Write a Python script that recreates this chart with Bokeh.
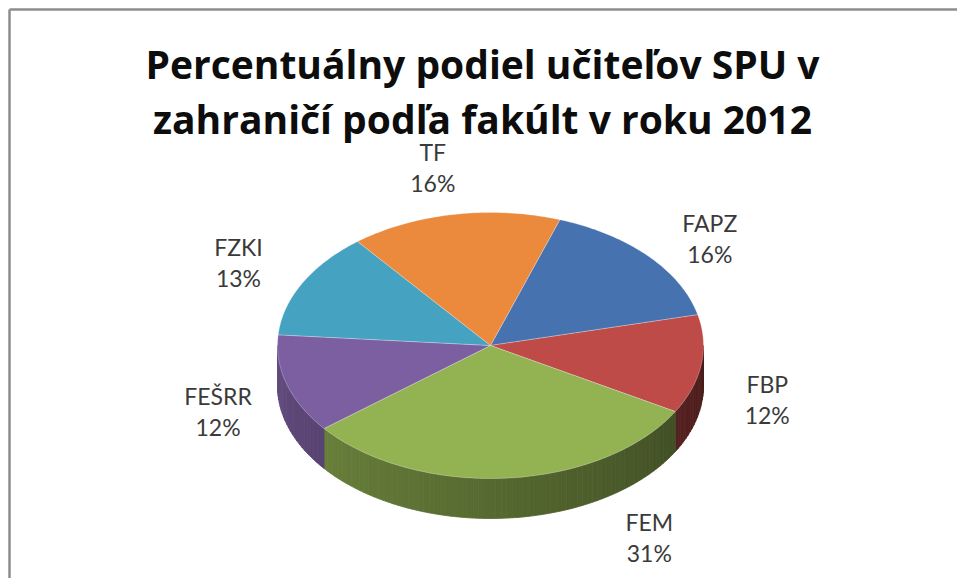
import math
from bokeh.plotting import figure
from bokeh.models import Range1d
from bokeh.core.properties import value
from bokeh.embed import file_html
from bokeh.resources import INLINE

# ---- data ----
faculties = ["FAPZ", "FBP", "FEM", "FEŠRR", "FZKI", "TF"]
shares = [16, 12, 31, 12, 13, 16]
title_lines = ["Percentuálny podiel učiteľov SPU v", "zahraničí podľa fakúlt v roku 2012"]

# ---- style / layout ----
colors = ["#4672B0", "#BE4B48", "#93B353", "#7C5FA0", "#45A2C0", "#EB8A3D"]
W, H = 957, 578
CX, CY, RX, RY, DEPTH = 490, 345, 213, 133, 40
START = 19.0  # first slice angle, degrees clockwise from 12 o'clock
label_nudge = [4, 9, -23, -4, 0, -1.6]     # degrees
label_k = [1.31, 1.36, 1.62, 1.37, 1.34, 1.37]
FONT = "Lato"
TITLE_FONT = "Open Sans"

p = figure(width=W, height=H, x_range=Range1d(0, W), y_range=Range1d(H, 0),
           output_backend="svg", toolbar_location=None, min_border=0)
p.axis.visible = False
p.grid.visible = False
p.outline_line_color = None
p.background_fill_color = "white"
p.border_fill_color = "white"


def pt(theta, dy=0.0, k=1.0):
    t = math.radians(theta)
    return CX + RX * k * math.sin(t), CY - RY * k * math.cos(t) + dy


def shade(hexc, f):
    r, g, b = int(hexc[1:3], 16), int(hexc[3:5], 16), int(hexc[5:7], 16)
    return "#%02x%02x%02x" % (int(r * f), int(g * f), int(b * f))


total = float(sum(shares))
angles = []
a = START
for v in shares:
    span = 360.0 * v / total
    angles.append((a, a + span))
    a += span

# frame
p.segment(x0=[9, 9], y0=[9, 9], x1=[W + 5, 9], y1=[9, H + 5], line_color="#8c8c8c", line_width=2.5)

# sides (visible lower half: 90..270 degrees)
for (a0, a1), c in zip(angles, colors):
    for off in (0, 360):
        lo, hi = max(a0, 90 + off), min(a1, 270 + off)
        if hi <= lo:
            continue
        n = max(2, int((hi - lo) / 1.5))
        step = (hi - lo) / n
        xs_list, ys_list, cols = [], [], []
        for i in range(n):
            t0, t1 = lo + i * step, lo + (i + 1) * step
            tm = (t0 + t1) / 2 - off
            f = 0.38 + 0.42 * (tm - 90) / 180.0
            p0 = pt(t0); p1 = pt(t1)
            xs_list.append([p0[0], p1[0], p1[0], p0[0]])
            ys_list.append([p0[1], p1[1], p1[1] + DEPTH, p0[1] + DEPTH])
            cols.append(shade(c, f))
        p.patches(xs_list, ys_list, fill_color=cols, line_color=cols, line_width=0.8)

# top faces
for (a0, a1), c in zip(angles, colors):
    n = max(4, int((a1 - a0) / 1.0))
    xs = [CX]; ys = [CY]
    for i in range(n + 1):
        x, y = pt(a0 + (a1 - a0) * i / n)
        xs.append(x); ys.append(y)
    p.patch(xs, ys, fill_color=c, line_color="#ffffff", line_alpha=0.25, line_width=1)

# labels
for (a0, a1), name, v, nd, k in zip(angles, faculties, shares, label_nudge, label_k):
    x, y = pt((a0 + a1) / 2 + nd, k=k)
    p.text(x=[x], y=[y - 15], text=[name], text_align="center", text_baseline="middle",
           text_font=value(FONT), text_font_size="23px", text_color="#3a3a3a")
    p.text(x=[x], y=[y + 16], text=["%d%%" % v], text_align="center", text_baseline="middle",
           text_font=value(FONT), text_font_size="23px", text_color="#3a3a3a")

# title
for i, line in enumerate(title_lines):
    p.text(x=[482], y=[63 + 55 * i], text=[line], text_align="center", text_baseline="middle",
           text_font=value(TITLE_FONT), text_font_style="bold", text_font_size="39px",
           text_color="#0d0d0d")

open("out.html", "w").write(file_html(p, INLINE))
